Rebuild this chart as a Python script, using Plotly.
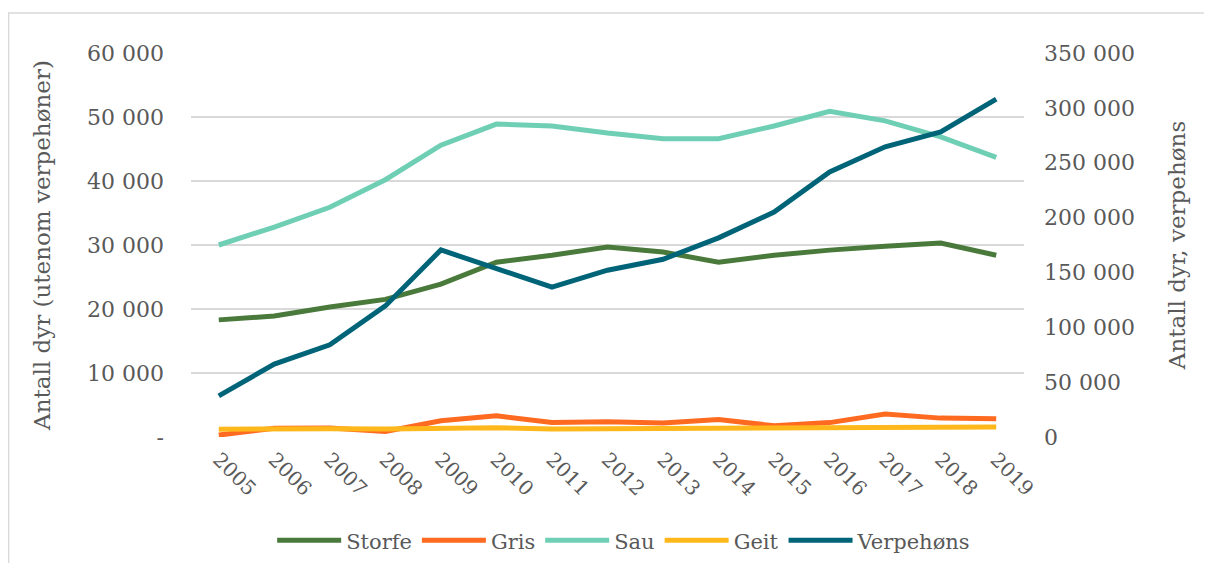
import plotly.graph_objs as go

years = [str(y) for y in range(2005, 2020)]

storfe = [18300, 18900, 20300, 21500, 23900, 27300, 28400, 29700, 28900, 27300, 28400, 29200, 29800, 30300, 28400]
gris = [300, 1350, 1400, 850, 2550, 3300, 2250, 2400, 2200, 2750, 1750, 2250, 3600, 2950, 2850]
sau = [30000, 32800, 35900, 40200, 45600, 48900, 48600, 47500, 46600, 46600, 48600, 50900, 49400, 46900, 43700]
geit = [1200, 1300, 1300, 1250, 1300, 1450, 1250, 1300, 1300, 1300, 1350, 1400, 1400, 1550, 1550]
verpehons = [37500, 66500, 84000, 119500, 170500, 154000, 136500, 152000, 162000, 181500, 205000, 241500, 264500, 278000, 308000]

left_ticks = [0, 10000, 20000, 30000, 40000, 50000, 60000]
left_labels = ['-', '10 000', '20 000', '30 000', '40 000', '50 000', '60 000']
right_ticks = [0, 50000, 100000, 150000, 200000, 250000, 300000, 350000]
right_labels = ['0', '50 000', '100 000', '150 000', '200 000', '250 000', '300 000', '350 000']

font_family = 'DejaVu Serif'
grey = '#595959'

fig = go.Figure()
# series on the left axis
fig.add_trace(go.Scatter(x=years, y=storfe, name='Storfe', mode='lines', line=dict(color='#4a7a3b', width=5)))
fig.add_trace(go.Scatter(x=years, y=gris, name='Gris', mode='lines', line=dict(color='#ff6a21', width=5)))
fig.add_trace(go.Scatter(x=years, y=sau, name='Sau', mode='lines', line=dict(color='#6fcfb4', width=5)))
fig.add_trace(go.Scatter(x=years, y=geit, name='Geit', mode='lines', line=dict(color='#ffb81c', width=5)))
# laying hens on the right axis
fig.add_trace(go.Scatter(x=years, y=verpehons, name='Verpehøns', mode='lines', yaxis='y2', line=dict(color='#006478', width=5)))

# the page body adds an 8px offset, margins allow for that
fig.update_layout(
    width=1212, height=563,
    margin=dict(l=183, r=196, t=45, b=134, autoexpand=False),
    paper_bgcolor='white', plot_bgcolor='white',
    font=dict(family=font_family, color=grey, size=20),
    xaxis=dict(type='category', range=[-0.5, 14.5], tickangle=45, showgrid=False, showline=False,
               ticks='', tickfont=dict(size=20, color=grey), automargin=False, ticklabelstandoff=6),
    yaxis=dict(range=[0, 60000], tickvals=left_ticks, ticktext=left_labels, showgrid=True,
               gridcolor='#d9d9d9', gridwidth=1.5, zeroline=False, ticks='', ticklabelstandoff=26,
               automargin=False, tickfont=dict(size=22, color=grey),
               title=dict(text='Antall dyr (utenom verpehøner)', font=dict(size=23, color=grey), standoff=29)),
    yaxis2=dict(range=[0, 350000], tickvals=right_ticks, ticktext=right_labels, overlaying='y', side='right',
                showgrid=False, zeroline=False, ticks='', ticklabelstandoff=19, automargin=False,
                tickfont=dict(size=22, color=grey),
                title=dict(text='Antall dyr, verpehøns', font=dict(size=23, color=grey), standoff=34)),
    legend=dict(orientation='h', x=0.52, xanchor='center', y=-0.27, yanchor='middle',
                font=dict(size=21, color=grey), itemwidth=64, tracegroupgap=0),
    shapes=[dict(type='rect', xref='paper', yref='paper', x0=-0.219, x1=1.24, y0=-0.36, y1=1.104,
                 line=dict(color='#d9d9d9', width=1.5))],
)

fig.write_html('out.html')
